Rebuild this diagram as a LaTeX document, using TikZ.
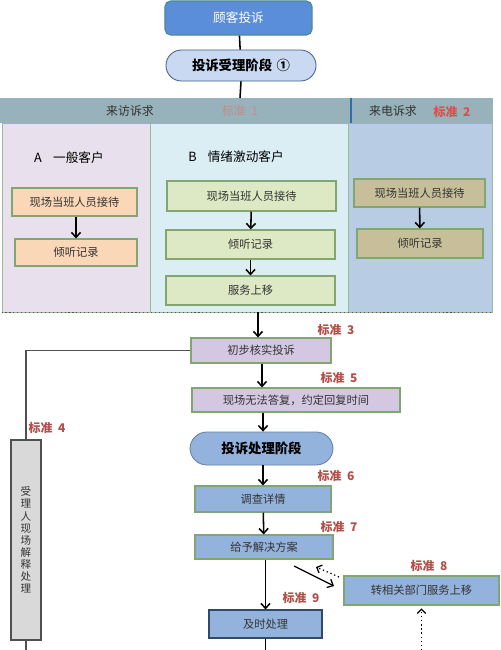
\documentclass[tikz,border=0pt]{standalone}
\usepackage{fontspec}
\setmainfont{Noto Sans CJK SC}
\usetikzlibrary{arrows.meta, positioning, calc}
\definecolor{CustBlue}{HTML}{5B8ED8}
\definecolor{CustLine}{HTML}{4A8A98}
\definecolor{StageLight}{HTML}{C9D9F1}
\definecolor{StageLine}{HTML}{41608F}
\definecolor{StageMid}{HTML}{93B3DD}
\definecolor{BandGrey}{HTML}{97B2BA}
\definecolor{BandLine}{HTML}{2E6FB0}
\definecolor{PanelLilac}{HTML}{E8E0EC}
\definecolor{PanelCyan}{HTML}{DAEEF4}
\definecolor{PanelSteel}{HTML}{B8CCE4}
\definecolor{PanelLine}{HTML}{9DB894}
\definecolor{BoxPeach}{HTML}{FAD7B7}
\definecolor{BoxGreen}{HTML}{DDE8C4}
\definecolor{BoxOlive}{HTML}{C6BF99}
\definecolor{BoxLilac}{HTML}{D3C7E1}
\definecolor{BoxBlue}{HTML}{93B3DC}
\definecolor{BoxLine}{HTML}{82A672}
\definecolor{BoxDark}{HTML}{2F4A6A}
\definecolor{SideGrey}{HTML}{D9D9D9}
\definecolor{SideLine}{HTML}{505050}
\definecolor{TextGrey}{HTML}{333333}
\definecolor{StdRed}{HTML}{B0504A}
\definecolor{StdPink}{HTML}{C48C8C}
\definecolor{StdBright}{HTML}{D9504C}
\tikzset{
    every node/.style={font=\fontsize{8}{9.6}\selectfont, text=TextGrey},
    % Top box
    custbox/.style={
        rectangle,
        rounded corners=4pt,
        draw=CustLine,
        fill=CustBlue,
        line width=0.8pt,
        minimum width=3.675cm,
        minimum height=0.85cm,
        text=white,
        font=\fontsize{9}{10}\selectfont
    },
    % Stage ellipse
    stage/.style={
        rectangle,
        rounded corners=11pt,
        draw=StageLine,
        line width=0.6pt,
        align=center,
        font=\fontsize{9.5}{11}\selectfont\bfseries,
        text=black
    },
    % Panel behind boxes
    panel/.style={
        rectangle,
        draw=PanelLine,
        line width=0.6pt,
        minimum height=4.725cm
    },
    % Plain process box
    box/.style={
        rectangle,
        draw=BoxLine,
        line width=0.8pt,
        align=center
    },
    % Side box
    sidebox/.style={
        rectangle,
        draw=SideLine,
        fill=SideGrey,
        line width=0.8pt,
        minimum width=0.75cm,
        minimum height=5cm,
        align=center,
        font=\fontsize{7.5}{8.6}\selectfont
    },
    % Standard label
    stdlabel/.style={
        text=StdRed,
        font=\fontsize{8.5}{10}\selectfont\bfseries
    },
    % Arrow style
    arrow/.style={
        -{Straight Barb[length=3.5pt,width=6.5pt]},
        line width=1.1pt,
        color=black
    },
    link/.style={line width=1.1pt, color=black},
    dotarrow/.style={
        -{Straight Barb[length=3pt,width=6pt]},
        dotted,
        line width=0.9pt,
        color=black
    }
}

\begin{document}
\begin{tikzpicture}[x=0.025cm, y=-0.025cm]
    \useasboundingbox (0,0) rectangle (500,650);

    \node (cust) [custbox] at (238.5,18) {顾客投诉};
    \node (stage1) [stage, fill=StageLight, minimum width=3.75cm, minimum height=0.775cm] at (241,65.5) {投诉受理阶段 \hspace{1pt}①};

    % Panels
    \node (panelA) [panel, fill=PanelLilac, minimum width=3.7cm] at (76,217.5) {};
    \node (panelB) [panel, fill=PanelCyan, minimum width=4.95cm] at (249,217.5) {};
    \node (panelC) [panel, fill=PanelSteel, minimum width=3.6cm] at (420,217.5) {};
    \draw [dotted, line width=0.8pt, color=SideLine] (panelA.south west) -- (panelC.south east);

    % Header band
    \fill [BandGrey] (0,98) rectangle (493,123);
    \draw [BandLine, line width=0.8pt] (351,98) -- (351,123);
    \node (visit) [font=\fontsize{8.5}{10}\selectfont, text=black!80] at (130,111) {来访诉求};
    \node (std1) [stdlabel, text=StdPink, font=\fontsize{8.5}{10}\selectfont] at (240,111) {标准\hspace{4pt}1};
    \node (call) [font=\fontsize{8.5}{10}\selectfont, text=black!80] at (393,111) {来电诉求};
    \node (std2) [stdlabel, text=StdBright] at (452,112) {标准\hspace{4pt}2};

    \draw [link] (cust) -- (stage1);
    \draw [link] (stage1.south) -- (240,98);

    % Visitors A
    \node (typeA) [font=\fontsize{9}{10}\selectfont, text=black] at (69,158) {A\hspace{8pt}一般客户};
    \node (a1) [box, fill=BoxPeach, minimum width=3.125cm, minimum height=0.7cm] at (74.5,202) {现场当班人员接待};
    \node (a2) [box, fill=BoxPeach, minimum width=3.05cm, minimum height=0.675cm] at (76,252.5) {倾听记录};
    \draw [arrow] (a1.south -| a2) -- (a2);

    % Visitors B
    \node (typeB) [font=\fontsize{9}{10}\selectfont, text=black] at (236,157) {B\hspace{8pt}情绪激动客户};
    \node (b1) [box, fill=BoxGreen, minimum width=4.225cm, minimum height=0.75cm] at (251.5,196) {现场当班人员接待};
    \node (b2) [box, fill=BoxGreen, minimum width=4.225cm, minimum height=0.725cm] at (250.5,244.5) {倾听记录};
    \node (b3) [box, fill=BoxGreen, minimum width=4.225cm, minimum height=0.725cm] at (250.5,290.5) {服务上移};
    \draw [arrow] (b1) -- (b2);
    \draw [arrow] (b2) -- (b3);

    % Callers
    \node (c1) [box, fill=BoxOlive, minimum width=3.275cm, minimum height=0.7cm] at (419.5,193) {现场当班人员接待};
    \node (c2) [box, fill=BoxOlive, minimum width=3.15cm, minimum height=0.725cm] at (420,243.5) {倾听记录};
    \draw [arrow] (c1) -- (c2);

    % Main column
    \node (check) [box, fill=BoxLilac, minimum width=3.5cm, minimum height=0.625cm] at (261,350.5) {初步核实投诉};
    \node (reply) [box, fill=BoxLilac, minimum width=5.2cm, minimum height=0.6cm] at (296,400) {现场无法答复，约定回复时间};
    \node (stage2) [stage, fill=StageMid, draw=StageLine!80, minimum width=3.575cm, minimum height=0.825cm, rounded corners=12pt] at (261.5,448.5) {投诉处理阶段};
    \node (survey) [box, fill=BoxBlue, minimum width=3.4cm, minimum height=0.65cm] at (263,499) {调查详情};
    \node (plan) [box, fill=BoxBlue, minimum width=3.45cm, minimum height=0.6cm] at (264,547) {给予解决方案};
    \node (handle) [box, fill=BoxBlue, draw=BoxDark, minimum width=2.825cm, minimum height=0.7cm] at (265.5,624) {及时处理};
    \node (transfer) [box, fill=BoxBlue, minimum width=3.875cm, minimum height=0.725cm] at (421.5,590.5) {转相关部门服务上移};

    \coordinate (inB) at (258,312);
    \draw [arrow] (inB) -- (inB |- check.north);
    \draw [arrow] (check.south -| 262,0) -- (reply.north -| 262,0);
    \draw [arrow] (reply.south -| 263,0) -- (stage2.north -| 263,0);
    \draw [arrow] (stage2.south -| 263,0) -- (survey.north -| 263,0);
    \draw [arrow] (survey) -- (plan);
    \draw [arrow] (plan.south -| handle) -- (handle);

    % Side branch
    \node (side) [sidebox] at (26,540) {受\\理\\人\\现\\场\\解\\释\\处\\理};
    \draw [line width=0.8pt, color=SideLine] (check.west) -| (side.north);
    \coordinate (sideEnd) at (side.south |- 0,650);
    \draw [line width=0.8pt, color=SideLine] (side.south) -- (sideEnd);

    % Transfer links
    \coordinate (toA) at (294,566);
    \coordinate (toB) at (334,586);
    \coordinate (backA) at (339,577);
    \coordinate (backB) at (316,567);
    \draw [arrow, line width=0.9pt] (toA) -- (toB);
    \draw [dotarrow] (backA) -- (backB);
    \coordinate (upEnd) at (transfer.south |- 0,650);
    \draw [dotarrow, shorten >=2pt] (upEnd) -- (transfer.south);
    \coordinate (handleEnd) at (handle.south |- 0,650);
    \draw [link] (handle.south) -- (handleEnd);

    % Standards
    \node (std3) [stdlabel] at (336,330) {标准\hspace{4pt}3};
    \node (std5) [stdlabel] at (339,378) {标准\hspace{4pt}5};
    \node (std4) [stdlabel] at (47,428) {标准\hspace{4pt}4};
    \node (std6) [stdlabel] at (336,476) {标准\hspace{4pt}6};
    \node (std7) [stdlabel] at (339,527) {标准\hspace{4pt}7};
    \node (std8) [stdlabel] at (429,566) {标准\hspace{4pt}8};
    \node (std9) [stdlabel] at (301,598) {标准\hspace{4pt}9};
\end{tikzpicture}
\end{document}
